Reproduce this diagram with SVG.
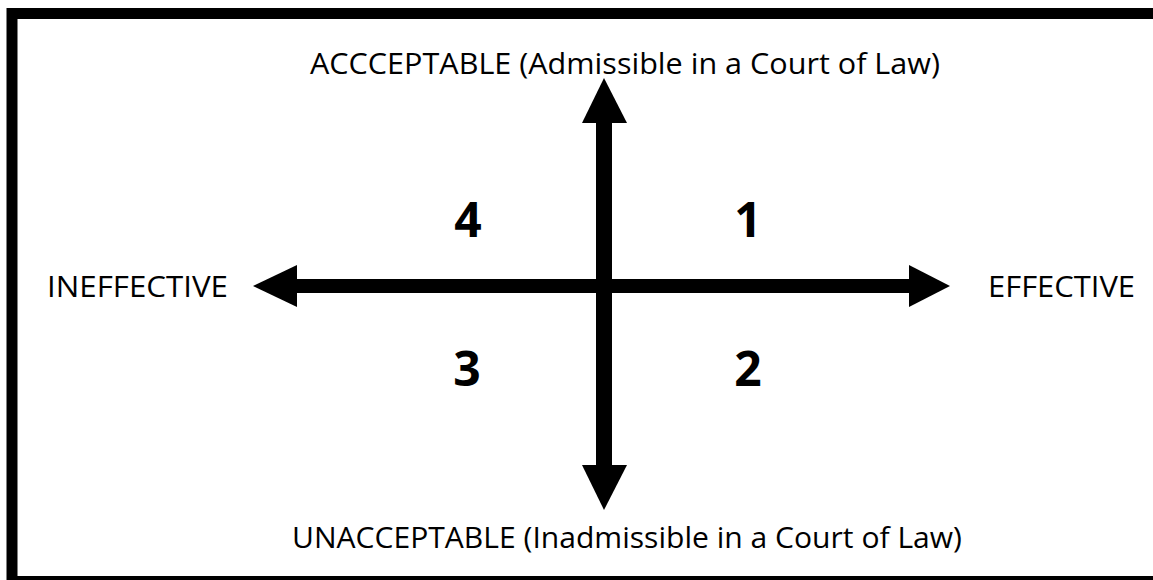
<svg xmlns="http://www.w3.org/2000/svg" width="1153" height="580" viewBox="0 0 1153 580">
<style>
.lbl{font-family:"Open Sans","Liberation Sans",sans-serif;font-size:29px;fill:#000}
.num{font-family:"Open Sans","Liberation Sans",sans-serif;font-size:48px;font-weight:bold;fill:#000;text-anchor:middle}
.ax{fill:#000}
</style>
<rect x="0" y="0" width="1153" height="580" fill="#fff"/>
<rect id="frame" x="12" y="13.5" width="1160" height="568" fill="none" stroke="#000" stroke-width="11"/>
<g id="connectors">
<rect class="ax" x="596" y="120" width="16" height="348"/>
<polygon class="ax" points="604,78 627,123 582,123"/>
<polygon class="ax" points="604,510 627,465 582,465"/>
<rect class="ax" x="294" y="279" width="618" height="14"/>
<polygon class="ax" points="253,286 297,265 297,307"/>
<polygon class="ax" points="950,286 909,265 909,307"/>
</g>
<g id="top"><text class="lbl" x="310" y="74" textLength="630" lengthAdjust="spacingAndGlyphs">ACCCEPTABLE (Admissible in a Court of Law)</text></g>
<g id="bottom"><text class="lbl" x="292" y="548" textLength="670" lengthAdjust="spacingAndGlyphs">UNACCEPTABLE (Inadmissible in a Court of Law)</text></g>
<g id="left"><text class="lbl" x="47" y="297" textLength="181" lengthAdjust="spacingAndGlyphs">INEFFECTIVE</text></g>
<g id="right"><text class="lbl" x="988" y="297" textLength="147" lengthAdjust="spacingAndGlyphs">EFFECTIVE</text></g>
<g id="q4"><text class="num" x="468" y="237">4</text></g>
<g id="q1"><text class="num" x="748" y="237">1</text></g>
<g id="q3"><text class="num" x="467" y="386">3</text></g>
<g id="q2"><text class="num" x="748" y="386">2</text></g>
</svg>
